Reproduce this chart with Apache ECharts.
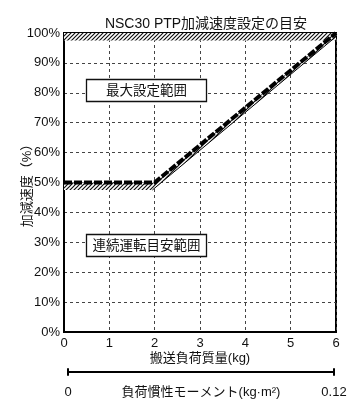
<!DOCTYPE html>
<html><head><meta charset="utf-8">
<script src="https://cdn.jsdelivr.net/npm/echarts@6/dist/echarts.min.js"></script>
<style>html,body{margin:0;padding:0;background:#fff}#c{width:353px;height:410px}</style>
</head><body><div id="c"></div>
<script>
const chartTitle = 'NSC30 PTP加減速度設定の目安';
const massMin = 0, massMax = 6, massStep = 1;
const accelMin = 0, accelMax = 100, accelStep = 10;
const inertiaRange = [0, 0.12];
const xName = '搬送負荷質量(kg)';
const yName = '加減速度（%）';
const inertiaName = '負荷慣性モーメント(kg·m²)';
// upper limit line (thick)
const limitMass = [0, 2, 6];
const limitAccel = [50, 50, 100];
// lower edge of the hatched band under the limit line
const hatchLowerMass = [0, 1.95, 6];
const hatchLowerAccel = [47.5, 47.5, 98.8];
// top band (hatched, max 100%)
const topBandMass = [0, 6];
const topBandAccel = [100, 97.5];
// region labels
const regionNames = ['最大設定範囲', '連続運転目安範囲'];
const regionMass = [1.8, 1.8];
const regionAccel = [81, 29];

const FONT = '"Liberation Sans","Noto Sans CJK JP",sans-serif';

function makePattern() {
  const s = 4;
  const c = document.createElement('canvas');
  c.width = s; c.height = s;
  const g = c.getContext('2d');
  g.fillStyle = '#fff'; g.fillRect(0, 0, s, s);
  g.strokeStyle = '#111'; g.lineWidth = 1.2;
  g.beginPath();
  g.moveTo(0, s); g.lineTo(s, 0);
  g.moveTo(-1, 1); g.lineTo(1, -1);
  g.moveTo(s - 1, s + 1); g.lineTo(s + 1, s - 1);
  g.stroke();
  return { image: c, repeat: 'repeat' };
}
const pattern = makePattern();

const chart = echarts.init(document.getElementById('c'), null, { renderer: 'canvas' });
const limitData = limitMass.map((m, i) => [m, limitAccel[i]]);
const regionData = regionNames.map((n, i) => [regionMass[i], regionAccel[i]]);

chart.setOption({
  animation: false,
  backgroundColor: '#fff',
  textStyle: { fontFamily: FONT },
  title: {
    text: chartTitle, left: 201, top: 12, textAlign: 'center',
    textStyle: { fontSize: 14, fontWeight: 'normal', color: '#111', fontFamily: FONT }
  },
  grid: [
    { left: 64, right: 17, top: 33, bottom: 78, show: true, borderColor: '#000', borderWidth: 2, backgroundColor: 'transparent', containLabel: false, outerBoundsMode: 'none' },
    { left: 68, right: 19, top: 369, height: 6, containLabel: false, outerBoundsMode: 'none' }
  ],
  xAxis: [
    {
      type: 'value', gridIndex: 0, min: massMin, max: massMax, interval: massStep,
      name: xName, nameLocation: 'middle', nameGap: 20, nameMoveOverlap: false,
      nameTextStyle: { fontSize: 13, color: '#111', fontFamily: FONT },
      axisLine: { lineStyle: { color: '#000', width: 2 } },
      axisTick: { show: false },
      axisLabel: { fontSize: 13, color: '#111', margin: 5, fontFamily: FONT },
      splitLine: { show: true, lineStyle: { color: '#444', width: 1, type: [3, 3] } }
    },
    {
      type: 'value', gridIndex: 1, min: inertiaRange[0], max: inertiaRange[1], interval: inertiaRange[1],
      name: inertiaName, nameLocation: 'middle', nameGap: 11, nameMoveOverlap: false,
      nameTextStyle: { fontSize: 13, color: '#111', fontFamily: FONT },
      axisLine: { onZero: true, lineStyle: { color: '#000', width: 2 } },
      axisTick: { show: false },
      axisLabel: { fontSize: 13, color: '#111', margin: 11, fontFamily: FONT, formatter: v => String(v) },
      splitLine: { show: false }
    }
  ],
  yAxis: [
    {
      type: 'value', gridIndex: 0, min: accelMin, max: accelMax, interval: accelStep,
      name: yName, nameLocation: 'middle', nameGap: 30, nameRotate: 90, nameMoveOverlap: false,
      nameTextStyle: { fontSize: 13, color: '#111', fontFamily: FONT },
      axisLine: { lineStyle: { color: '#000', width: 2 } },
      axisTick: { show: false },
      axisLabel: { fontSize: 13, color: '#111', margin: 4, fontFamily: FONT, formatter: '{value}%' },
      splitLine: { show: true, lineStyle: { color: '#444', width: 1, type: [3, 3] } }
    },
    {
      type: 'value', gridIndex: 1, min: -1, max: 1, position: 'left',
      axisLine: { show: true, onZero: false, lineStyle: { color: '#000', width: 2 } },
      axisTick: { show: false }, axisLabel: { show: false }, splitLine: { show: false }
    },
    {
      type: 'value', gridIndex: 1, min: -1, max: 1, position: 'right',
      axisLine: { show: true, onZero: false, lineStyle: { color: '#000', width: 2 } },
      axisTick: { show: false }, axisLabel: { show: false }, splitLine: { show: false }
    }
  ],
  series: [
    {
      type: 'custom', xAxisIndex: 0, yAxisIndex: 0, data: [[0, 0]], z: 3, silent: true,
      renderItem: function (params, api) {
        const topPts = [
          [topBandMass[0], topBandAccel[0]], [topBandMass[1], topBandAccel[0]],
          [topBandMass[1], topBandAccel[1]], [topBandMass[0], topBandAccel[1]]
        ].map(p => api.coord(p));
        const upper = limitMass.map((m, i) => [m, limitAccel[i]]);
        const lower = hatchLowerMass.map((m, i) => [m, hatchLowerAccel[i]]);
        const bandPts = upper.concat(lower.slice().reverse()).map(p => api.coord(p));
        const thinPts = lower.slice(1).map(p => api.coord(p));
        return {
          type: 'group',
          children: [
            { type: 'polygon', shape: { points: topPts }, style: { fill: pattern, stroke: null } },
            { type: 'polygon', shape: { points: bandPts }, style: { fill: pattern, stroke: null } },
            { type: 'polyline', shape: { points: thinPts }, style: { stroke: '#000', lineWidth: 1, fill: null } }
          ]
        };
      }
    },
    {
      type: 'line', xAxisIndex: 0, yAxisIndex: 0, data: limitData, z: 5, silent: true,
      symbol: 'none', lineStyle: { color: '#000', width: 4, type: [8, 2] }
    },
    {
      type: 'custom', xAxisIndex: 0, yAxisIndex: 0, data: regionData, z: 6, silent: true,
      renderItem: function (params, api) {
        const c = api.coord([api.value(0), api.value(1)]);
        const w = 120, h = 22;
        const x = Math.round(c[0] - w / 2) + 0.5, y = Math.round(c[1] - h / 2) + 0.5;
        return {
          type: 'group',
          children: [
            { type: 'rect', shape: { x: x, y: y, width: w, height: h },
              style: { fill: '#fff', stroke: '#111', lineWidth: 1.3 } },
            { type: 'text', x: x + w / 2, y: y + h / 2 + 0.5,
              style: { text: regionNames[params.dataIndex], fill: '#111', font: '13.5px ' + FONT,
                align: 'center', verticalAlign: 'middle' } }
          ]
        };
      }
    }
  ]
});
</script>
</body></html>
